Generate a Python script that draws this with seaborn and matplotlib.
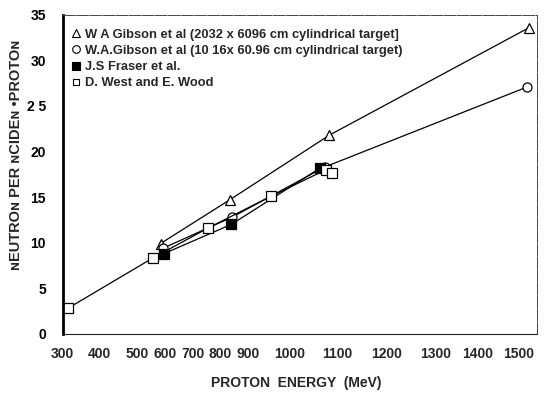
import matplotlib
matplotlib.use("Agg")
import matplotlib.pyplot as plt
import matplotlib.transforms as mtransforms
from matplotlib.lines import Line2D
import seaborn as sns
import pandas as pd

# ---- data ----
gib20_x = [548, 723, 975, 1480]
gib20_y = [9.9, 14.7, 21.8, 33.6]

gib10_x = [555, 729, 963, 1476]
gib10_y = [9.4, 12.8, 18.3, 27.1]

fraser_x = [557, 727, 952]
fraser_y = [8.8, 12.0, 18.2]

west_x = [314, 528, 668, 828, 966, 982]
west_y = [2.8, 8.3, 11.6, 15.1, 18.0, 17.6]

labels = [
    "W A Gibson et al (2032 x 6096 cm cylindrical target]",
    "W.A.Gibson et al (10 16x 60.96 cm cylindrical target)",
    "J.S Fraser et al.",
    "D. West and E. Wood",
]

xticks = [300, 400, 500, 600, 700, 800, 900, 1000, 1100, 1200, 1300, 1400, 1500]
xtick_labels = ["300", "400", "500", "600", "700", "800", "900", "1000",
                "1100", "1200", "1300", "1400", "1500"]
yticks = [0, 5, 10, 15, 20, 25, 30, 35]
ytick_labels = ["0", "5", "10", "15", "20", "2 5", "30", "35"]

# ---- plotting ----
sns.set_theme(style="white")
plt.rcParams["font.family"] = ["Liberation Sans", "DejaVu Sans"]

fig = plt.figure(figsize=(5.49, 3.93), dpi=100)
ax = fig.add_axes([0.114, 0.151, 0.864, 0.811])

series = [
    (gib20_x, gib20_y, "^", "white", 7),
    (gib10_x, gib10_y, "o", "white", 6.5),
    (fraser_x, fraser_y, "s", "black", 6.5),
    (west_x, west_y, "s", "white", 7),
]
for (xs, ys, mk, fc, ms), lab in zip(series, labels):
    df = pd.DataFrame({"energy": xs, "yield": ys})
    sns.lineplot(data=df, x="energy", y="yield", ax=ax, color="black",
                 linewidth=0.9, marker=mk, markersize=ms, markerfacecolor=fc,
                 markeredgecolor="black", markeredgewidth=0.9, legend=False)

ax.set_xlim(300, 1500)
ax.set_ylim(0, 35)
ax.set_xticks(xticks)
ax.set_xticklabels([])
ax.set_yticks(yticks)
ax.set_yticklabels(ytick_labels, fontsize=10, fontweight="bold")
ax.set_xlabel("")
ax.set_ylabel("")

# x tick labels placed (shifted) as they appear in the scanned reference
offsets_px = [0, -3, -4, -16, -28, -40, -52, -50, -42, -32, -22, -20, -18]
for xv, txt, dx in zip(xticks, xtick_labels, offsets_px):
    tr = ax.get_xaxis_transform() + mtransforms.ScaledTranslation(
        dx / 100, -20 / 100, fig.dpi_scale_trans)
    ax.text(xv, 0, txt, transform=tr, ha="center", va="center",
            fontsize=10, fontweight="bold", clip_on=False)

ax.tick_params(axis="y", direction="out", length=4, width=0.8, pad=8, colors="black")
ax.tick_params(axis="x", direction="inout", length=5, width=0.8, pad=8, colors="black")

for side in ["top", "right"]:
    ax.spines[side].set_linewidth(0.7)
    ax.spines[side].set_color("#444444")
    ax.spines[side].set_linestyle((0, (12, 1.5)))
ax.spines["left"].set_linewidth(2.0)
ax.spines["left"].set_color("black")
ax.spines["bottom"].set_linewidth(0.8)
ax.spines["bottom"].set_color("#222222")

handles = [
    Line2D([], [], linestyle="none", marker="^", markersize=6, markerfacecolor="white",
           markeredgecolor="black", markeredgewidth=0.8),
    Line2D([], [], linestyle="none", marker="o", markersize=5.5, markerfacecolor="white",
           markeredgecolor="black", markeredgewidth=0.8),
    Line2D([], [], linestyle="none", marker="s", markersize=6, markerfacecolor="black",
           markeredgecolor="black", markeredgewidth=0.8),
    Line2D([], [], linestyle="none", marker="s", markersize=4.5, markerfacecolor="white",
           markeredgecolor="black", markeredgewidth=0.8),
]
leg = ax.legend(handles, labels, loc="upper left", bbox_to_anchor=(0.0, 0.985),
                frameon=False, handlelength=0.6, handletextpad=0.4,
                labelspacing=0.32, borderaxespad=0.3,
                prop={"family": ["Liberation Sans"], "weight": "bold", "size": 9.3})

fig.text(296 / 549, 1 - 383 / 393, "PROTON  ENERGY  (MeV)", ha="center", va="center",
         fontsize=10, fontweight="bold")
fig.text(16 / 549, 1 - 155 / 393, "ɴEUTROɴ PER ɴCIDEɴ •PROTOɴ", rotation=90,
         ha="center", va="center", fontsize=10.5, fontweight="bold")

fig.savefig("out.png", dpi=100)
